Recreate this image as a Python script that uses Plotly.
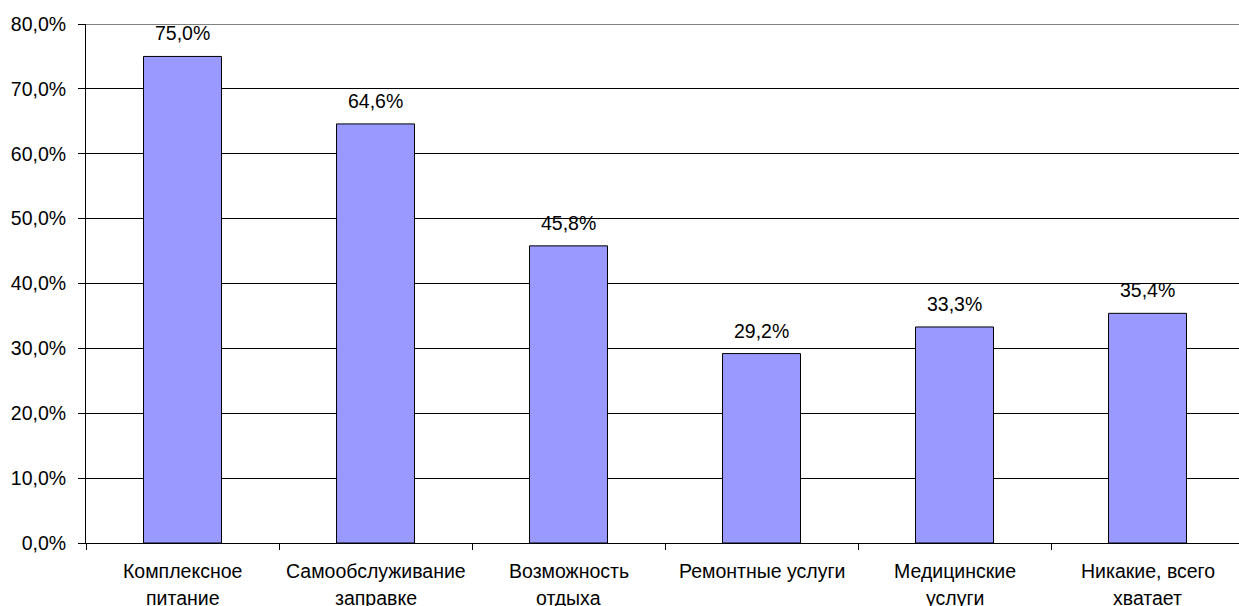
import plotly.graph_objects as go

categories = ["Комплексное питание", "Самообслуживание заправке", "Возможность отдыха",
              "Ремонтные услуги", "Медицинские услуги", "Никакие, всего хватает"]
label_line1 = ["Комплексное", "Самообслуживание", "Возможность", "Ремонтные услуги", "Медицинские", "Никакие, всего"]
label_line2 = ["питание", "заправке", "отдыха", "", "услуги", "хватает"]
values = [75.0, 64.6, 45.8, 29.2, 33.3, 35.4]
y_ticks = [0, 10, 20, 30, 40, 50, 60, 70, 80]
y_tick_text = ["0,0%", "10,0%", "20,0%", "30,0%", "40,0%", "50,0%", "60,0%", "70,0%", "80,0%"]

FONT = "Liberation Sans, Arial, sans-serif"
FS = 19.5

fig = go.Figure()
fig.add_trace(go.Bar(
    x=categories, y=values,
    marker=dict(color="#9999FF", line=dict(color="#000000", width=1)),
    hoverinfo="skip",
))

annotations = []
for c, v in zip(categories, values):
    annotations.append(dict(
        x=c, y=v, xref="x", yref="y", text=f"{v:.1f}%".replace(".", ","),
        showarrow=False, yanchor="middle", yshift=23,
        font=dict(family=FONT, size=FS, color="#000000")))
for c, l1, l2 in zip(categories, label_line1, label_line2):
    annotations.append(dict(
        x=c, y=0, xref="x", yref="paper", text=l1, showarrow=False,
        yanchor="top", yshift=-15, font=dict(family=FONT, size=FS, color="#000000")))
    if l2:
        annotations.append(dict(
            x=c, y=0, xref="x", yref="paper", text=l2, showarrow=False,
            yanchor="top", yshift=-42, font=dict(family=FONT, size=FS, color="#000000")))

fig.update_layout(
    width=1239, height=606,
    margin=dict(l=86, r=0, t=24, b=63),
    paper_bgcolor="white", plot_bgcolor="white",
    showlegend=False,
    bargap=0.596,
    font=dict(family=FONT, size=FS, color="#000000"),
    annotations=annotations,
    shapes=[dict(type="line", xref="paper", yref="y", x0=0, x1=1, y0=80, y1=80,
                 line=dict(color="#808080", width=2), layer="above")],
    xaxis=dict(
        type="category", range=[-0.5, 5.474], tickson="boundaries",
        showticklabels=False, ticks="outside", ticklen=6, tickcolor="#000000",
        showline=True, linecolor="#000000", linewidth=1, showgrid=False,
        zeroline=False, fixedrange=True),
    yaxis=dict(
        range=[0, 80], tickvals=y_ticks, ticktext=y_tick_text,
        ticks="outside", ticklen=7, tickcolor="#000000",
        showline=True, linecolor="#000000", linewidth=1,
        showgrid=True, gridcolor="#000000", gridwidth=1, zeroline=False,
        ticklabelstandoff=8, fixedrange=True,
        tickfont=dict(family=FONT, size=FS, color="#000000")),
)

fig.write_html("out.html")
